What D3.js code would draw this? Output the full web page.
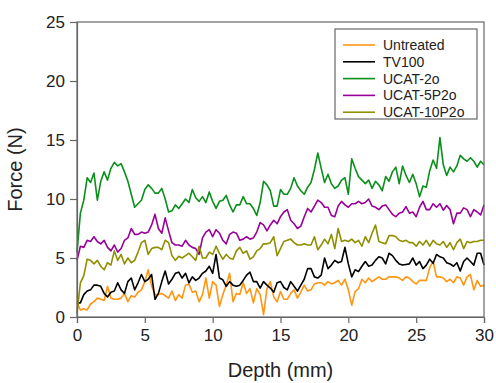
<!DOCTYPE html>
<html><head><meta charset="utf-8">
<script src="https://cdn.jsdelivr.net/npm/d3@7/dist/d3.min.js"></script>
<style>html,body{margin:0;padding:0;background:#fff;}svg{display:block;font-family:"Liberation Sans",Arial,sans-serif;}</style>
</head><body>
<svg id="c" width="496" height="383"></svg>
<script>
const depth = [0,0.25,0.5,0.75,1,1.25,1.5,1.75,2,2.25,2.5,2.75,3,3.25,3.5,3.75,4,4.25,4.5,4.75,5,5.25,5.5,5.75,6,6.25,6.5,6.75,7,7.25,
7.5,7.75,8,8.25,8.5,8.75,9,9.25,9.5,9.75,10,10.25,10.5,10.75,11,11.25,11.5,11.75,12,12.25,12.5,12.75,13,13.25,13.5,13.75,14,14.25,14.5,14.75,
15,15.25,15.5,15.75,16,16.25,16.5,16.75,17,17.25,17.5,17.75,18,18.25,18.5,18.75,19,19.25,19.5,19.75,20,20.25,20.5,20.75,21,21.25,21.5,21.75,22,22.25,
22.5,22.75,23,23.25,23.5,23.75,24,24.25,24.5,24.75,25,25.25,25.5,25.75,26,26.25,26.5,26.75,27,27.25,27.5,27.75,28,28.25,28.5,28.75,29,29.25,29.5,29.75,30];

const untreated = [1.2,0.6,0.7,0.6,1.1,1.3,1.6,1.5,1.4,2.6,1.6,1.5,1.5,1.6,2.0,1.3,1.8,1.7,2.1,2.3,3.0,4.0,2.6,1.9,1.9,2.0,1.8,1.6,2.2,1.4,
1.9,1.6,2.7,2.8,2.1,2.2,1.3,1.9,3.3,1.6,3.0,2.7,0.9,1.9,2.7,3.7,1.3,2.0,1.9,2.9,2.0,2.4,1.2,2.4,1.9,0.2,2.4,3.0,1.7,1.3,
2.15,1.5,1.5,2.0,2.3,1.6,2.1,2.7,2.2,2.3,2.8,2.9,2.9,2.7,3.0,2.8,2.9,3.1,2.7,3.2,2.3,1.0,2.15,2.4,3.2,2.9,3.3,3.0,3.2,3.4,
3.2,3.2,3.4,3.4,3.4,3.3,3.1,3.4,3.3,3.0,2.8,3.1,3.1,3.1,4.2,4.7,3.4,3.4,3.3,3.0,3.2,2.9,3.4,3.3,2.7,3.4,3.6,2.3,3.1,2.6,2.7];

const tv100 = [1.2,1.2,1.9,2.2,2.3,2.7,2.7,2.6,2.0,1.7,2.1,2.2,2.9,2.3,2.0,3.0,3.3,2.3,2.9,3.6,3.0,3.2,3.6,1.5,2.0,3.0,3.9,2.8,3.2,3.7,
3.8,3.3,3.7,2.9,3.4,3.1,3.3,3.7,3.9,4.3,3.7,5.3,3.3,3.15,2.6,3.0,2.7,2.6,2.7,3.1,3.55,3.8,3.0,3.0,2.45,3.0,2.7,2.45,2.1,2.9,
3.0,2.5,2.3,3.0,2.6,2.2,2.7,3.2,4.1,4.1,3.4,3.3,3.55,5.0,4.1,4.4,4.8,4.6,4.7,5.9,4.5,3.4,4.0,3.85,4.3,4.7,4.3,4.4,4.8,5.1,
5.0,4.5,5.4,5.2,4.8,4.5,4.4,4.45,4.5,5.0,4.4,4.7,4.1,4.4,4.9,4.55,5.3,5.1,5.0,4.6,4.5,4.3,4.6,3.9,4.7,5.0,4.7,4.4,5.4,5.4,4.4];

const ucat2o = [5.5,8.8,9.9,11.8,11.4,12.2,9.9,11.5,12.3,11.6,12.6,13.1,12.8,13.0,12.3,11.5,10.4,9.3,9.6,9.9,10.8,11.2,10.9,10.5,10.5,10.9,10.0,8.9,9.0,9.5,
9.2,9.6,10.0,9.7,10.8,10.1,9.8,10.2,9.7,10.6,9.8,9.2,9.8,9.9,10.3,9.5,8.9,9.5,9.5,10.2,9.6,9.6,9.2,8.6,9.7,11.5,11.2,10.7,9.4,9.4,
10.8,10.4,10.4,10.9,11.8,11.1,10.7,10.4,11.0,11.4,12.5,13.9,12.6,11.4,12.1,11.3,10.9,11.1,11.6,11.8,10.4,13.4,12.6,11.9,11.6,11.3,11.6,10.9,11.5,11.2,
10.7,11.9,11.5,12.3,12.7,11.3,12.8,12.0,11.4,12.1,11.3,10.2,11.1,11.0,12.4,13.3,12.6,15.2,12.9,12.0,12.7,12.3,12.8,13.7,13.4,13.2,13.5,13.2,12.7,13.2,12.9];

const ucat5p2o = [4.8,6.0,5.9,6.5,6.4,6.8,6.4,6.2,6.5,5.9,5.6,6.1,5.5,5.8,6.5,6.7,7.5,7.0,7.0,7.2,7.1,7.2,7.8,8.7,7.5,7.1,8.4,7.3,6.3,6.1,
6.1,6.0,6.5,6.1,5.9,5.8,5.3,6.7,7.2,7.4,6.8,7.4,7.1,6.5,6.2,7.0,7.2,7.1,6.5,6.6,6.8,6.6,6.7,7.2,8.0,7.8,7.3,7.8,8.2,7.9,
8.5,8.9,9.1,8.2,7.9,7.5,7.7,8.5,9.2,8.9,9.4,9.9,9.7,9.3,9.3,8.6,8.5,9.4,9.8,9.5,9.3,9.6,9.6,9.8,9.6,9.7,10.0,9.4,9.3,9.1,
9.4,9.5,9.1,8.7,8.5,8.8,8.9,9.35,8.8,8.9,8.5,9.3,9.8,9.1,9.1,9.6,9.3,9.6,9.05,9.45,9.1,7.9,8.8,8.8,9.25,9.1,8.5,9.1,8.9,8.65,9.5];

const ucat10p2o = [0.3,2.9,3.5,4.9,4.8,4.5,4.8,4.3,4.0,4.6,4.4,5.6,4.8,5.3,4.5,5.0,4.6,4.8,5.5,6.3,6.5,5.3,5.8,5.9,5.9,5.7,6.5,6.3,5.2,4.8,
5.15,5.0,5.2,5.4,5.1,4.8,6.0,5.0,5.0,5.5,5.3,6.0,5.4,4.9,5.3,5.0,4.9,5.6,5.9,5.4,5.6,4.9,5.1,5.6,5.8,6.2,6.2,6.3,6.8,5.2,
5.8,6.4,6.5,6.6,6.3,6.1,6.1,6.2,6.1,6.1,6.8,5.7,6.1,6.6,6.2,7.0,5.8,7.5,6.4,6.5,6.4,6.6,6.3,6.5,6.0,6.8,6.3,7.1,7.8,6.4,
6.3,6.2,6.9,6.9,6.8,6.5,6.4,6.5,6.3,6.3,6.0,6.4,6.1,6.5,6.0,6.5,6.2,6.1,6.4,5.9,6.3,5.7,6.3,6.6,5.8,6.4,6.3,6.4,6.4,6.5,6.5];

const seriesNames = ["Untreated","TV100","UCAT-2o","UCAT-5P2o","UCAT-10P2o"];
const seriesValues = [untreated, tv100, ucat2o, ucat5p2o, ucat10p2o];
const seriesColors = ["#ff9612","#000000","#0a8f1a","#990099","#8f8f00"];
const xTicks = [0,5,10,15,20,25,30];
const yTicks = [0,5,10,15,20,25];

const svg = d3.select("#c");
const L = 77, R = 484, T = 22, B = 317;
const x = d3.scaleLinear().domain([0,30]).range([L,R]);
const y = d3.scaleLinear().domain([0,25]).range([B,T]);

// data lines
const line = d3.line().x((d,i)=>x(depth[i])).y(d=>y(d));
seriesValues.forEach((vals,k)=>{
  svg.append("path").datum(vals).attr("d",line)
    .attr("fill","none").attr("stroke",seriesColors[k])
    .attr("stroke-width",1.6).attr("stroke-linejoin","round");
});

// frame
svg.append("rect").attr("x",L).attr("y",T).attr("width",R-L).attr("height",B-T)
  .attr("fill","none").attr("stroke","#666").attr("stroke-width",1.2);

const xAxis = svg.append("g").attr("transform",`translate(0,${B})`)
  .call(d3.axisBottom(x).tickValues(xTicks).tickSize(6).tickPadding(6).tickFormat(d3.format("d")));
const yAxis = svg.append("g").attr("transform",`translate(${L},0)`)
  .call(d3.axisLeft(y).tickValues(yTicks).tickSize(7).tickPadding(5).tickFormat(d3.format("d")));
[xAxis,yAxis].forEach(g=>{
  g.select(".domain").attr("stroke","#666").attr("stroke-width",1.2);
  g.selectAll(".tick line").attr("stroke","#666").attr("stroke-width",1.2);
  g.selectAll(".tick text").attr("fill","#222").style("font-size","17px").style("font-family","Liberation Sans, Arial, sans-serif");
});

// axis titles
svg.append("text").attr("x",(L+R)/2).attr("y",377).attr("text-anchor","middle")
  .style("font-size","20px").attr("fill","#222").text("Depth (mm)");
svg.append("text").attr("transform",`translate(22,${(T+B)/2}) rotate(-90)`).attr("text-anchor","middle")
  .style("font-size","20px").attr("fill","#222").text("Force (N)");

// legend
const lg = svg.append("g");
lg.append("rect").attr("x",335).attr("y",29).attr("width",142).attr("height",90)
  .attr("fill","#fff").attr("stroke","#666").attr("stroke-width",1.2);
seriesNames.forEach((n,k)=>{
  const yy = 45 + k*16.8;
  lg.append("line").attr("x1",343).attr("x2",375).attr("y1",yy).attr("y2",yy)
    .attr("stroke",seriesColors[k]).attr("stroke-width",1.6);
  lg.append("text").attr("x",383).attr("y",yy).attr("dy","0.35em")
    .style("font-size","14px").attr("fill","#222").text(n);
});
</script>
</body></html>
